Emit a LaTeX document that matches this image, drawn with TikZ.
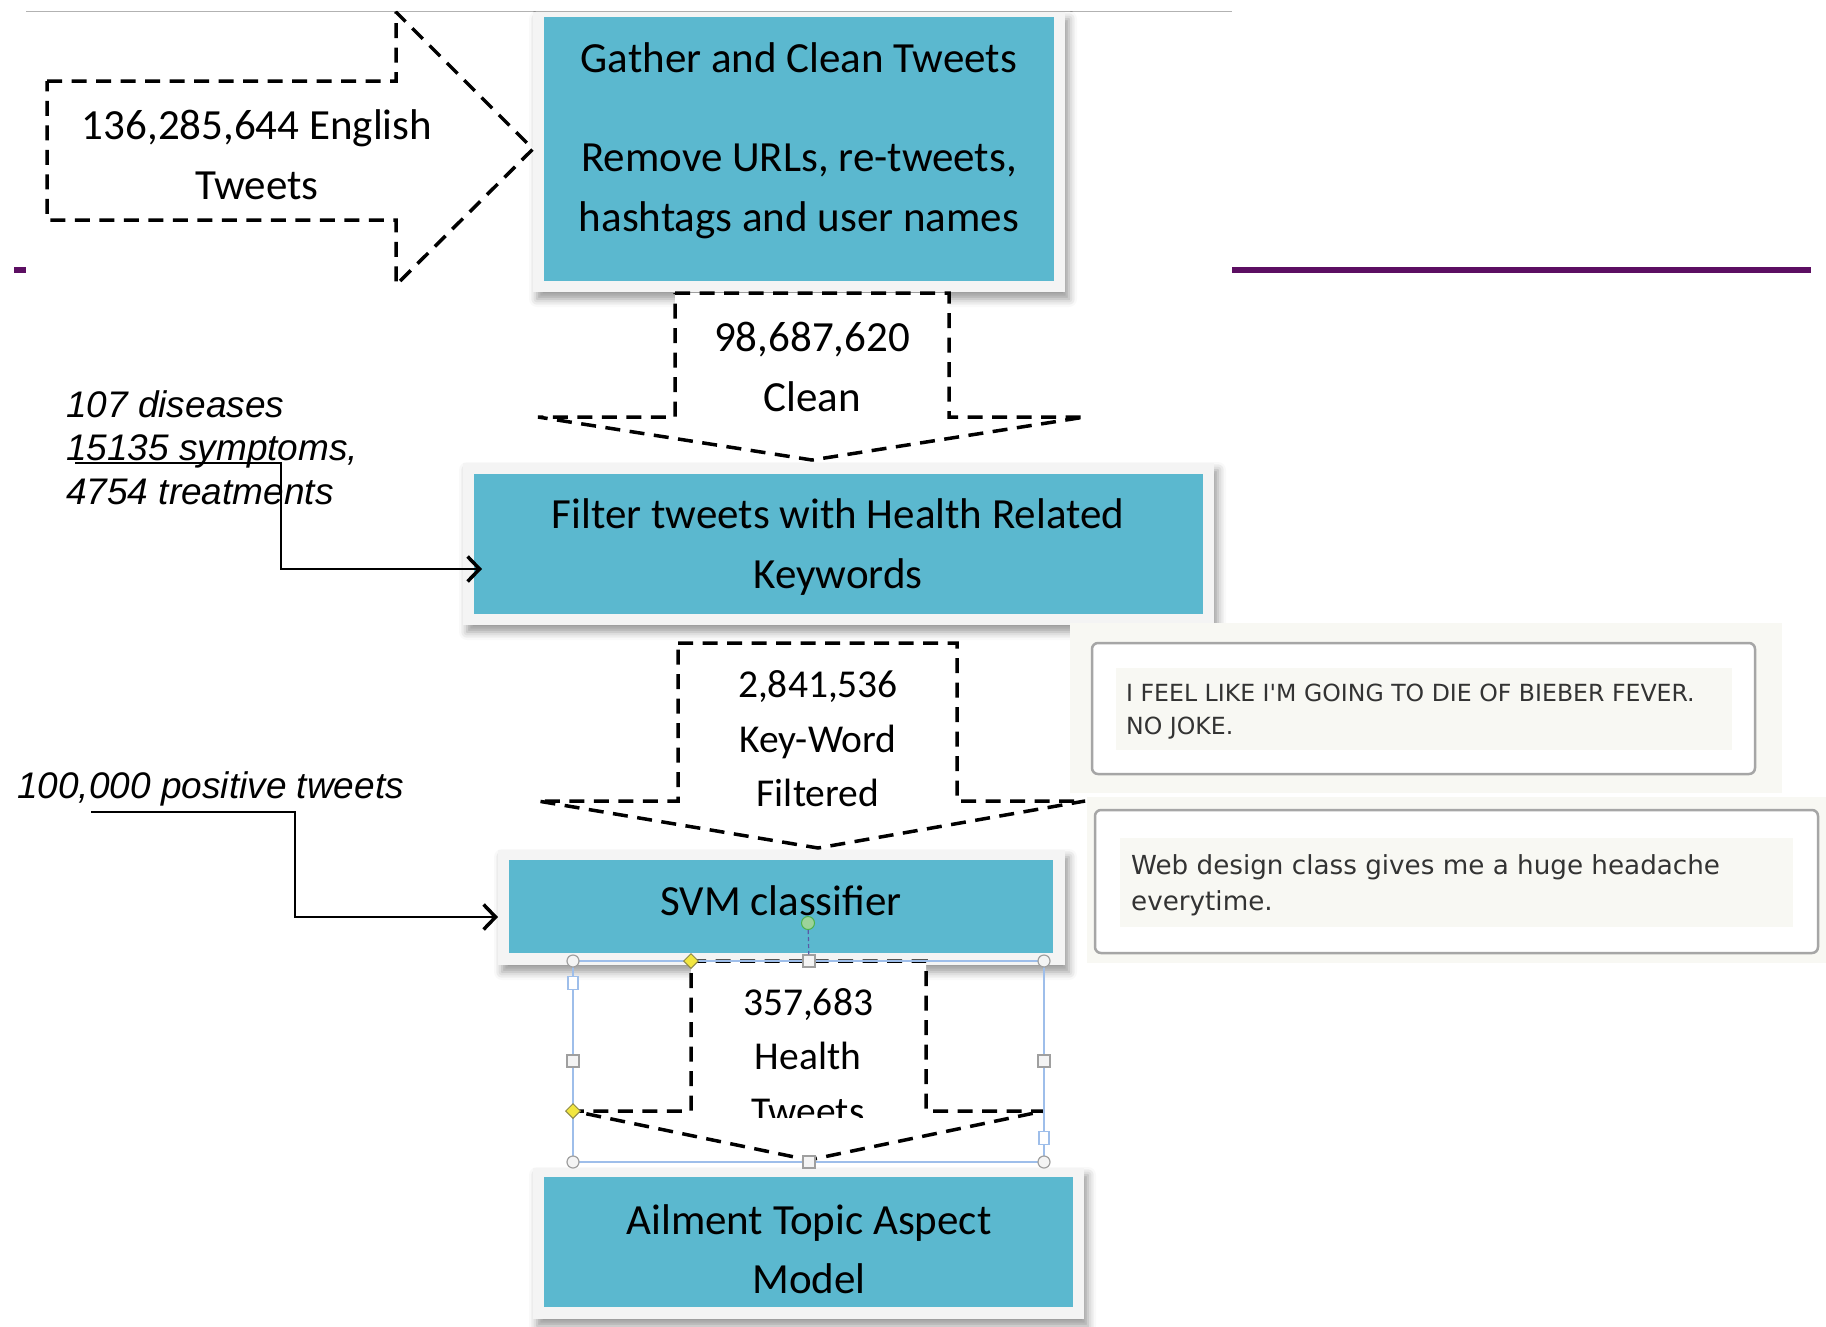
\documentclass[tikz,border=0pt]{standalone}
\usepackage{fontspec}
\setmainfont{Carlito}
\newfontfamily\arialf{Liberation Sans}
\newfontfamily\tweetf{DejaVu Sans}
\usetikzlibrary{arrows.meta,shadows.blur,shapes.geometric,fit}
\definecolor{boxblue}{HTML}{5BB8CF}
\definecolor{framegray}{HTML}{F4F4F4}
\definecolor{purp}{HTML}{5C0E62}
\definecolor{selblue}{HTML}{9EBEEA}
\definecolor{panelbg}{HTML}{F8F8F3}
\definecolor{tweettext}{HTML}{333333}
\definecolor{hyellow}{HTML}{F2E640}
\definecolor{hgreen}{HTML}{9CD39A}
\begin{document}
\begin{tikzpicture}[x=1pt,y=-1pt,
  frame/.style={fill=framegray, draw=none, inner sep=0,
    blur shadow={shadow xshift=4pt, shadow yshift=-7pt, shadow blur radius=8pt, shadow opacity=40}},
  bluebox/.style={fill=boxblue, draw=none, inner sep=0},
  dasharrow/.style={draw=black, fill=white, line width=3.5pt, dash pattern=on 15pt off 9.5pt, line join=miter, miter limit=1.5},
  cal/.style={font=\fontsize{43}{60}\selectfont, align=center, inner sep=0},
  calsmall/.style={font=\fontsize{39.5}{54.5}\selectfont, align=center, inner sep=0},
  ital/.style={font=\arialf\itshape\fontsize{37}{43.5}\selectfont, align=left, inner sep=0, anchor=west},
  conn/.style={line width=2.6pt, -{Straight Barb[length=12pt,width=25pt,line width=3.5pt]}},
  panel/.style={fill=panelbg, draw=none, inner sep=0},
  tbox/.style={fill=white, draw=gray!70, line width=2.5pt, rounded corners=6pt, inner sep=0},
  tinner/.style={fill=panelbg, draw=none, inner sep=0},
  hcirc/.style={circle, draw=gray!75, fill=framegray, line width=1.2pt, minimum size=12pt, inner sep=0},
  hsq/.style={rectangle, draw=gray!75, fill=framegray, line width=1.2pt, minimum size=12pt, inner sep=0},
  hdia/.style={diamond, draw=yellow!50!black, fill=hyellow, line width=1pt, minimum size=15pt, inner sep=0},
  hblue/.style={rectangle, draw=selblue, fill=white, line width=1.5pt, minimum width=10pt, minimum height=13pt, inner sep=0},
]
\useasboundingbox (0,0) rectangle (1826,1326);

% top gray line and purple rules
\draw[gray!60, line width=1.5pt] (26,11.5) -- (1232,11.5);
\fill[purp] (1232,267) rectangle (1811,273);
\fill[purp] (14,267) rectangle (26,273);

% boxes
\node[frame, fit={(533,12) (1065,292)}] (gframe) {};
\node[bluebox, fit={(544,17) (1054,281)}] (gather) {};
\node[frame, fit={(463,463) (1214,625)}] (fframe) {};
\node[bluebox, fit={(474,474) (1203,614)}] (filter) {};
\node[frame, fit={(498,850) (1065,965)}] (sframe) {};
\node[bluebox, fit={(509,860) (1053,953)}] (svm) {};
\node[frame, fit={(533,1168) (1084,1319)}] (aframe) {};
\node[bluebox, fit={(544,1177) (1073,1307)}] (atam) {};

% tweet panels
\node[panel, fit={(1070,623) (1782,793)}] (p1bg) {};
\node[tbox, fit={(1092,643) (1755,774)}] (p1box) {};
\node[tinner, fit={(1116,668) (1732,750)}] (p1in) {};
\node[panel, fit={(1087,797) (1826,963)}] (p2bg) {};
\node[tbox, fit={(1095,810) (1818,953)}] (p2box) {};
\node[tinner, fit={(1120,838) (1793,927)}] (p2in) {};
\node[anchor=west, inner sep=0, align=left, text=tweettext,
  font=\tweetf\fontsize{23.6}{33}\selectfont] (t1) at (1126,711.5)
  {I FEEL LIKE I'M GOING TO DIE OF BIEBER FEVER.\\NO JOKE.};
\node[anchor=west, inner sep=0, align=left, text=tweettext,
  font=\tweetf\fontsize{26.2}{36}\selectfont] (t2) at (1131,885)
  {Web design class gives me a huge headache\\everytime.};

% dashed block arrows
\draw[dasharrow] (47,81) -- (396,81) -- (396,12) -- (533,149) -- (396,285) -- (396,220) -- (47,220) -- cycle;
\draw[dasharrow] (675,293) -- (949,293) -- (949,417) -- (1085,417) -- (812,460) -- (538,417) -- (675,417) -- cycle;
\draw[dasharrow] (678,643) -- (957,643) -- (957,801) -- (1085,801) -- (818,848) -- (538,801) -- (678,801) -- cycle;
\draw[dasharrow] (691,961) -- (926,961) -- (926,1111) -- (1044,1111) -- (809,1160) -- (573,1111) -- (691,1111) -- cycle;

% texts
\node[cal] (l1) at (257,154.5) {136,285,644 English\\Tweets};
\node[cal] (g1) at (799,58) {Gather and Clean Tweets};
\node[cal] (g2) at (799,191) {Remove URLs, re-tweets,\\hashtags and user names};
\node[cal] (a1) at (812,366.5) {98,687,620\\Clean};
\node[cal] (f1) at (838,547.5) {Filter tweets with Health Related\\Keywords};
\node[calsmall] (a2) at (818,739) {2,841,536\\Key-Word\\Filtered};
\node[cal] (s1) at (781,901) {SVM classifier};
\begin{scope}
  \clip (600,950) rectangle (1000,1117);
  \node[calsmall] (a3) at (808,1056.5) {357,683\\Health\\Tweets};
\end{scope}
\node[cal, font=\fontsize{43}{59}\selectfont] (m1) at (809,1249.5) {Ailment Topic Aspect\\Model};

\node[ital] (kw) at (66,447.5) {107 diseases\\15135 symptoms,\\4754 treatments};
\node[ital] (pos) at (17,788.5) {100,000 positive tweets};

% connectors
\coordinate (k1) at (75,463);
\coordinate (k2) at (281,569);
\coordinate (k3) at (482,569);
\draw[conn] (k1) -| (k2) -- (k3);
\coordinate (q1) at (91,812);
\coordinate (q2) at (295,917);
\coordinate (q3) at (498,917);
\draw[conn] (q1) -| (q2) -- (q3);

% selection handles
\draw[selblue, line width=1.5pt] (573,961) rectangle (1044,1162);
\node[hcirc] (hc1) at (573,961) {};
\node[hcirc] (hc2) at (1044,961) {};
\node[hcirc] (hc3) at (573,1162) {};
\node[hcirc] (hc4) at (1044,1162) {};
\node[hsq] (hs1) at (809,961) {};
\node[hsq] (hs2) at (573,1061) {};
\node[hsq] (hs3) at (1044,1061) {};
\node[hsq] (hs4) at (809,1162) {};
\node[hdia] (hd1) at (691,961) {};
\node[hdia] (hd2) at (573,1111) {};
\node[hblue] (hb1) at (573,983) {};
\node[hblue] (hb2) at (1044,1138) {};
\node[circle, draw=green!40!gray, fill=hgreen, line width=1pt, minimum size=13pt, inner sep=0] (hg) at (808,923) {};
\draw[gray!70!blue, line width=1.2pt, dash pattern=on 4pt off 3pt] (hg) -- (hs1);
\end{tikzpicture}
\end{document}
